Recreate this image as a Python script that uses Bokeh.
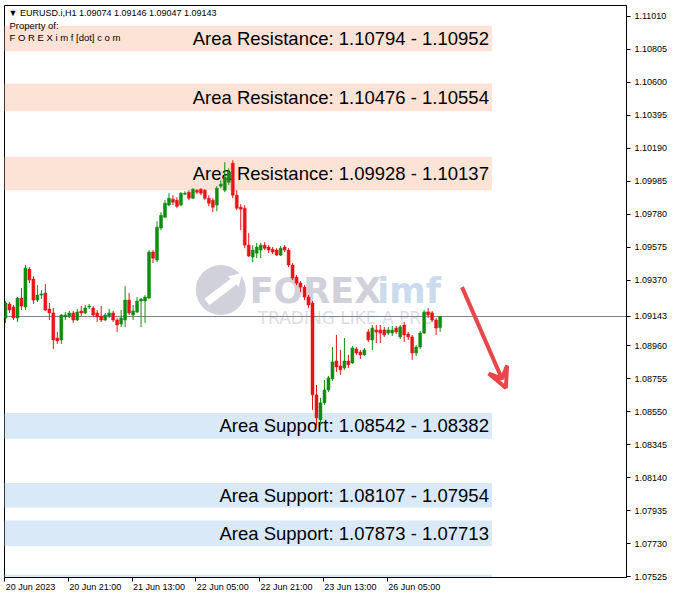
import numpy as np
from bokeh.plotting import figure
from bokeh.models import (Range1d, FixedTicker, PrintfTickFormatter, Label, Arrow,
                          VeeHead, ColumnDataSource)
from bokeh.core.properties import value
from bokeh.embed import file_html
from bokeh.resources import INLINE

# ---------------- data (EURUSD.i H1) ----------------
opens = [1.09134, 1.09221, 1.09202, 1.09134, 1.09258, 1.09202, 1.09438, 1.09376, 1.09245, 1.09276,
         1.09289, 1.09190, 1.09165, 1.09009, 1.08997, 1.09140, 1.09146, 1.09165, 1.09121, 1.09177,
         1.09165, 1.09202, 1.09196, 1.09165, 1.09146, 1.09121, 1.09146, 1.09165, 1.09121, 1.09096,
         1.09121, 1.09245, 1.09152, 1.09171, 1.09239, 1.09239, 1.09258, 1.09544, 1.09494, 1.09693,
         1.09761, 1.09836, 1.09873, 1.09867, 1.09836, 1.09904, 1.09916, 1.09879, 1.09929, 1.09935,
         1.09929, 1.09879, 1.09867, 1.09836, 1.09954, 1.09929, 1.09978, 1.10096, 1.09898, 1.09823,
         1.09817, 1.09587, 1.09513, 1.09537, 1.09556, 1.09587, 1.09575, 1.09562, 1.09556, 1.09525,
         1.09575, 1.09556, 1.09463, 1.09388, 1.09351, 1.09326, 1.09264, 1.09227, 1.08655, 1.08500,
         1.08606, 1.08686, 1.08755, 1.08866, 1.08835, 1.08823, 1.08866, 1.08854, 1.08941, 1.08922,
         1.08904, 1.09047, 1.08997, 1.09059, 1.09059, 1.09059, 1.09040, 1.09040, 1.09071, 1.09016,
         1.09090, 1.09034, 1.09016, 1.08916, 1.08953, 1.09040, 1.09171, 1.09165, 1.09121, 1.09074]
highs = [1.09239, 1.09233, 1.09214, 1.09264, 1.09320, 1.09463, 1.09450, 1.09394, 1.09338, 1.09307,
         1.09345, 1.09227, 1.09196, 1.09047, 1.09158, 1.09171, 1.09177, 1.09177, 1.09190, 1.09208,
         1.09214, 1.09221, 1.09208, 1.09183, 1.09208, 1.09165, 1.09190, 1.09177, 1.09134, 1.09183,
         1.09332, 1.09289, 1.09214, 1.09264, 1.09258, 1.09276, 1.09556, 1.09556, 1.09736, 1.09792,
         1.09867, 1.09910, 1.09898, 1.09885, 1.09916, 1.09922, 1.09929, 1.09941, 1.09935, 1.09941,
         1.09935, 1.09898, 1.09879, 1.09954, 1.09991, 1.10103, 1.10065, 1.10115, 1.09929, 1.09842,
         1.09836, 1.09662, 1.09587, 1.09600, 1.09600, 1.09606, 1.09587, 1.09575, 1.09568, 1.09581,
         1.09587, 1.09568, 1.09475, 1.09401, 1.09363, 1.09338, 1.09276, 1.09239, 1.08717, 1.08637,
         1.08748, 1.08773, 1.08953, 1.09028, 1.08935, 1.09009, 1.08904, 1.08960, 1.08953, 1.08935,
         1.08947, 1.09065, 1.09090, 1.09090, 1.09090, 1.09078, 1.09078, 1.09084, 1.09084, 1.09090,
         1.09109, 1.09047, 1.09028, 1.08966, 1.09053, 1.09183, 1.09196, 1.09177, 1.09134, 1.09146]
lows = [1.09103, 1.09165, 1.09121, 1.09109, 1.09183, 1.09183, 1.09351, 1.09221, 1.09233, 1.09252,
        1.09177, 1.09121, 1.08941, 1.08972, 1.08972, 1.09121, 1.09134, 1.09103, 1.09115, 1.09146,
        1.09158, 1.09190, 1.09140, 1.09109, 1.09109, 1.09115, 1.09134, 1.09109, 1.09047, 1.09078,
        1.09078, 1.09152, 1.09121, 1.09165, 1.09078, 1.09103, 1.09252, 1.09475, 1.09481, 1.09680,
        1.09755, 1.09829, 1.09836, 1.09817, 1.09829, 1.09898, 1.09867, 1.09873, 1.09904, 1.09898,
        1.09867, 1.09829, 1.09792, 1.09798, 1.09941, 1.09916, 1.09960, 1.09879, 1.09805, 1.09680,
        1.09568, 1.09513, 1.09481, 1.09506, 1.09506, 1.09556, 1.09537, 1.09531, 1.09519, 1.09519,
        1.09544, 1.09450, 1.09370, 1.09338, 1.09295, 1.09245, 1.09196, 1.08562, 1.08457, 1.08469,
        1.08593, 1.08674, 1.08742, 1.08798, 1.08780, 1.08811, 1.08823, 1.08848, 1.08904, 1.08879,
        1.08898, 1.08985, 1.08935, 1.08978, 1.08978, 1.09016, 1.09028, 1.09022, 1.09034, 1.09003,
        1.08985, 1.08997, 1.08873, 1.08898, 1.08941, 1.09034, 1.09134, 1.09109, 1.09028, 1.09047]
closes = [1.09227, 1.09183, 1.09134, 1.09258, 1.09208, 1.09444, 1.09370, 1.09245, 1.09276, 1.09283,
          1.09183, 1.09165, 1.08997, 1.08991, 1.09152, 1.09152, 1.09165, 1.09121, 1.09171, 1.09165,
          1.09196, 1.09208, 1.09152, 1.09140, 1.09121, 1.09152, 1.09165, 1.09121, 1.09090, 1.09134,
          1.09245, 1.09165, 1.09177, 1.09239, 1.09252, 1.09264, 1.09544, 1.09506, 1.09699, 1.09773,
          1.09848, 1.09879, 1.09854, 1.09829, 1.09910, 1.09910, 1.09879, 1.09935, 1.09916, 1.09910,
          1.09879, 1.09848, 1.09823, 1.09941, 1.09966, 1.10010, 1.10041, 1.09898, 1.09817, 1.09811,
          1.09587, 1.09519, 1.09556, 1.09575, 1.09587, 1.09568, 1.09556, 1.09544, 1.09525, 1.09568,
          1.09556, 1.09463, 1.09382, 1.09351, 1.09326, 1.09264, 1.09214, 1.08655, 1.08512, 1.08606,
          1.08686, 1.08761, 1.08860, 1.08829, 1.08811, 1.08866, 1.08842, 1.08947, 1.08916, 1.08904,
          1.08935, 1.08997, 1.09071, 1.09047, 1.09040, 1.09028, 1.09059, 1.09059, 1.09047, 1.09078,
          1.09028, 1.09016, 1.08916, 1.08953, 1.09040, 1.09171, 1.09152, 1.09121, 1.09071, 1.09143]

x_tick_index = [0, 16, 32, 48, 64, 80, 96]
x_tick_labels = ["20 Jun 2023", "20 Jun 21:00", "21 Jun 13:00", "22 Jun 05:00",
                 "22 Jun 21:00", "23 Jun 13:00", "26 Jun 05:00"]
y_tick_labels = ["1.11010", "1.10805", "1.10600", "1.10395", "1.10190", "1.09985",
                 "1.09780", "1.09575", "1.09370", "1.09165", "1.08960", "1.08755",
                 "1.08550", "1.08345", "1.08140", "1.07935", "1.07730", "1.07525"]

res_top = [1.10952, 1.10593, 1.10137]
res_bottom = [1.10794, 1.10420, 1.09928]
res_labels = ["Area Resistance: 1.10794 - 1.10952",
              "Area Resistance: 1.10476 - 1.10554",
              "Area Resistance: 1.09928 - 1.10137"]
sup_top = [1.08542, 1.08107, 1.07873, 1.07536]
sup_bottom = [1.08382, 1.07954, 1.07713, 1.07380]
sup_labels = ["Area Support: 1.08542 - 1.08382",
              "Area Support: 1.08107 - 1.07954",
              "Area Support: 1.07873 - 1.07713", ""]

symbol = "EURUSD.i,H1"
last_price = closes[-1]
zone_end_bar = 122.0
arrow_from = (114.5, 1.09326)
arrow_to = (125.5, 1.08699)

# ---------------- figure ----------------
W, H = 670, 594
BORDER_L, BORDER_T, BORDER_R, BORDER_B = 4, 5, 42, 16
PX_PER_BAR = 4.0
FRAME_W = W - BORDER_L - BORDER_R
x_start = -1.0 / PX_PER_BAR
x_end = x_start + FRAME_W / PX_PER_BAR
y_end = 1.11078
y_start = 1.07519

p = figure(width=W, height=H, output_backend="svg", toolbar_location=None,
           x_range=Range1d(x_start, x_end), y_range=Range1d(y_start, y_end),
           y_axis_location="right", min_border_left=BORDER_L, min_border_top=BORDER_T,
           min_border_right=BORDER_R, min_border_bottom=BORDER_B)
p.grid.visible = False
p.outline_line_color = "black"
p.background_fill_color = "white"
p.border_fill_color = "white"

AX_FONT = "Liberation Sans"
# the tick label that sits under the current-price marker is replaced by the current price
y_ticks = [float(s) for s in y_tick_labels if abs(float(s) - last_price) > 0.0004]
y_ticks.append(last_price)
yax = p.yaxis[0]
yax.ticker = FixedTicker(ticks=sorted(y_ticks))
yax.formatter = PrintfTickFormatter(format="%.5f")
yax.major_label_text_font = AX_FONT
yax.major_label_text_font_size = "9px"
yax.major_label_text_color = "black"
yax.major_tick_out = 4
yax.major_tick_in = 0
yax.minor_tick_out = 0
yax.minor_tick_in = 0
yax.major_label_standoff = 4
yax.axis_line_color = "black"

# labels are centred on their (shifted) ticks so that they start at the real tick mark
label_shift = [6.25] + [6.5] * (len(x_tick_index) - 1)
x_label_pos = [t + s for t, s in zip(x_tick_index, label_shift)]
xax = p.xaxis[0]
xax.ticker = FixedTicker(ticks=x_label_pos, minor_ticks=[t - 0.25 for t in x_tick_index])
xax.major_label_overrides = {pos: s for pos, s in zip(x_label_pos, x_tick_labels)}
xax.major_label_text_font = AX_FONT
xax.major_label_text_font_size = "9px"
xax.major_label_text_color = "black"
xax.major_tick_out = 0
xax.major_tick_in = 0
xax.minor_tick_out = 4
xax.minor_tick_in = 0
xax.minor_tick_line_color = "black"
xax.major_label_standoff = 0
xax.axis_line_color = "black"

# zones
p.quad(left=[x_start] * 3, right=[zone_end_bar] * 3, top=res_top, bottom=res_bottom,
       fill_color="#fde3d5", line_color=None)
p.quad(left=[x_start] * 4, right=[zone_end_bar] * 4, top=sup_top, bottom=sup_bottom,
       fill_color="#d9e9f8", line_color=None)

ZFONT = "Liberation Sans"
p.text(x=[zone_end_bar] * 3, y=[(a + b) / 2 for a, b in zip(res_top, res_bottom)],
       text=res_labels, text_align="right", text_baseline="middle", x_offset=-3,
       text_font=value(ZFONT), text_font_size="18.5px", text_color="black")
p.text(x=[zone_end_bar] * 4, y=[(a + b) / 2 for a, b in zip(sup_top, sup_bottom)],
       text=sup_labels, text_align="right", text_baseline="middle", x_offset=-3,
       text_font=value(ZFONT), text_font_size="18.5px", text_color="black")

# watermark
p.scatter(x=[54.0], y=[1.09308], size=50, marker="circle", fill_color="#d0d1da", line_color=None)
p.segment(x0=[50.5], y0=[1.09233], x1=[57.2], y1=[1.09360], line_color="white", line_width=8)
p.scatter(x=[57.9], y=[1.09378], size=15, marker="triangle", angle=-0.785,
          fill_color="white", line_color=None)
p.text(x=[61.25], y=[1.09301], text=["FOREX"], text_font=value("DejaVu Sans"),
       text_font_style="bold", text_font_size="35px", text_color="#d0d1da",
       text_baseline="middle")
p.text(x=[93.25], y=[1.09301], text=["imf"], text_font=value("DejaVu Sans"),
       text_font_style="bold", text_font_size="35px", text_color="#cadcee",
       text_baseline="middle")
p.text(x=[63.25], y=[1.09134], text=["TRADING LIKE A PRO"], text_font=value("DejaVu Sans"),
       text_font_size="17px", text_color="#dddde3", text_baseline="middle")

# current price line
p.segment(x0=[x_start], y0=[last_price], x1=[x_end], y1=[last_price],
          line_color="#7a8591", line_width=1)

# candles
idx = np.arange(len(opens))
o = np.array(opens); c = np.array(closes)
up = c >= o
colors = np.where(up, "#108c10", "#e8141a")
src = ColumnDataSource(dict(x=idx, top=np.maximum(o, c), bottom=np.minimum(o, c),
                            high=highs, low=lows, color=colors))
p.segment(x0="x", y0="high", x1="x", y1="low", color="color", line_width=1, source=src)
p.vbar(x="x", width=0.75, top="top", bottom="bottom", fill_color="color",
       line_color="color", line_width=0.5, source=src)

# arrow
p.add_layout(Arrow(x_start=arrow_from[0], y_start=arrow_from[1], x_end=arrow_to[0],
                   y_end=arrow_to[1], line_color="#e8474a", line_width=4,
                   end=VeeHead(size=20, line_color="#e8474a", line_width=4, fill_alpha=0)))

# header texts
p.add_layout(Label(x=x_start, y=y_end, x_offset=4, y_offset=-7, text_baseline="middle",
                   text=f"\u25BC {symbol}  {opens[-1]:.5f} {highs[-1]:.5f} {lows[-1]:.5f} {closes[-1]:.5f}",
                   text_font=AX_FONT, text_font_size="9px", text_color="black"))
p.add_layout(Label(x=x_start, y=y_end, x_offset=5, y_offset=-20, text_baseline="middle",
                   text="Property of:", text_font=AX_FONT, text_font_size="9.5px",
                   text_color="black"))
p.add_layout(Label(x=x_start, y=y_end, x_offset=5, y_offset=-32, text_baseline="middle",
                   text="F O R E X i m f [dot] c o m", text_font=AX_FONT,
                   text_font_size="9.5px", text_color="black"))

open("out.html", "w").write(file_html(p, INLINE))
